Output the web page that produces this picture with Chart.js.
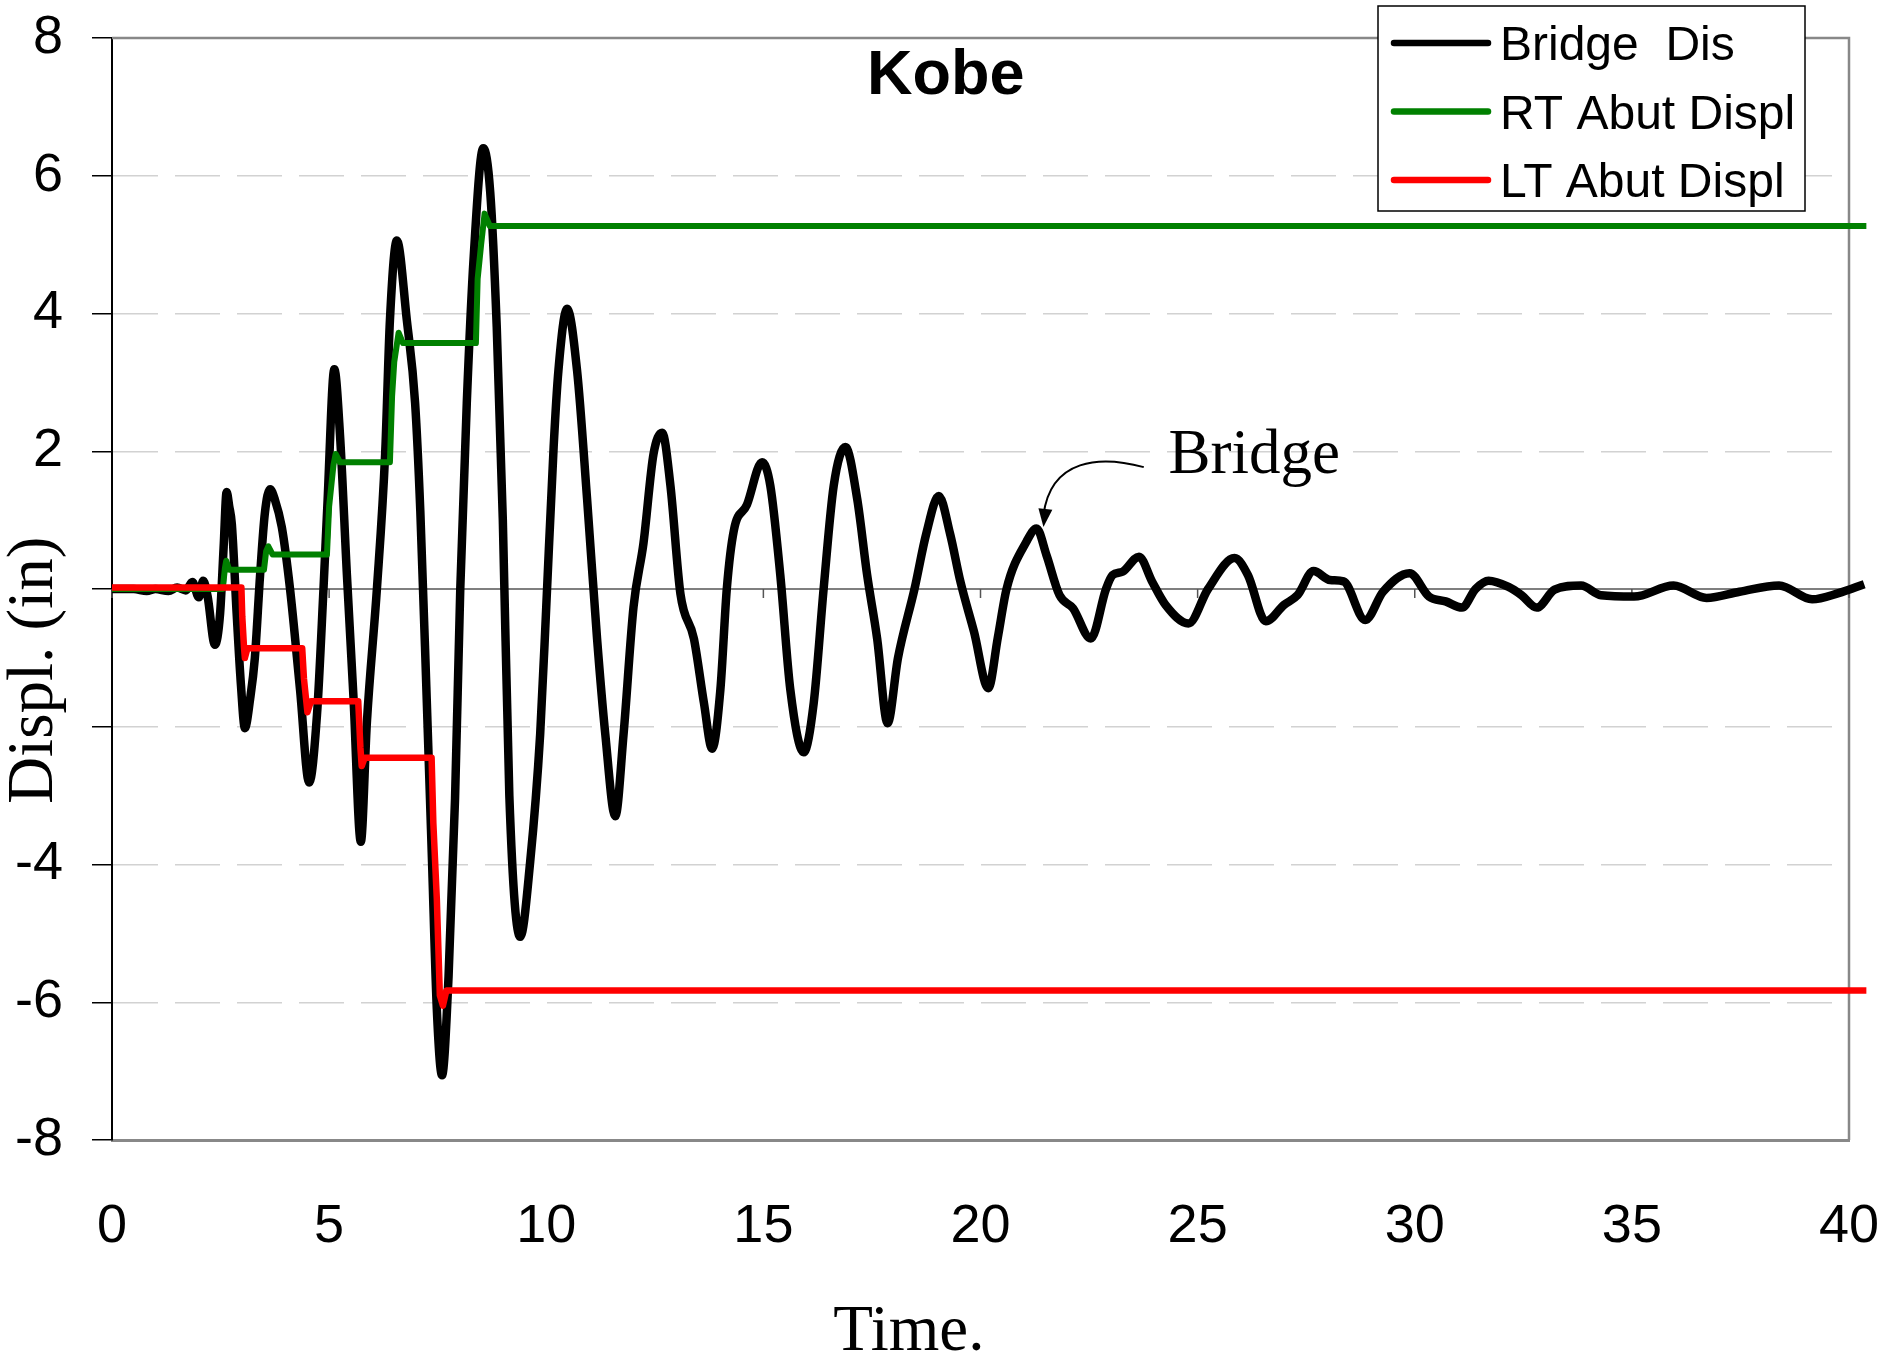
<!DOCTYPE html>
<html>
<head>
<meta charset="utf-8">
<title>Kobe</title>
<script src="https://cdn.jsdelivr.net/npm/chart.js@4.4.1/dist/chart.umd.min.js"></script>
<style>
  html, body { margin: 0; padding: 0; background: #fff; }
  #chartBox { width: 1884px; height: 1355px; }
</style>
</head>
<body>
<div id="chartBox"><canvas id="kobeChart" width="1884" height="1355"></canvas></div>
<script>
// Values: time (s) and displacement (in)
const bridgeTime = [0, 0.5, 0.8, 1.0, 1.3, 1.5, 1.7, 1.85, 2.0, 2.1, 2.2, 2.37, 2.49, 2.57, 2.64, 2.7, 2.76, 2.87, 2.97, 3.06,
  3.18, 3.29, 3.41, 3.52, 3.64, 3.75, 3.91, 4.1, 4.33, 4.54, 4.72, 4.87, 4.96, 5.12, 5.25, 5.41, 5.56, 5.73, 5.87, 6.1,
  6.29, 6.4, 6.56, 6.79, 6.98, 7.1, 7.25, 7.37, 7.48, 7.6, 7.75, 7.9, 8.02, 8.17, 8.33, 8.55, 8.71, 8.86, 9.0, 9.15,
  9.4, 9.63, 9.86, 10.0, 10.17, 10.28, 10.48, 10.71, 10.94, 11.17, 11.36, 11.59, 11.78, 12.01, 12.24, 12.47, 12.67, 12.86, 13.09, 13.4,
  13.63, 13.82, 14.01, 14.16, 14.32, 14.62, 14.97, 15.16, 15.39, 15.62, 15.93, 16.16, 16.39, 16.62, 16.89, 17.16, 17.39, 17.62, 17.86, 18.1,
  18.48, 18.75, 19.04, 19.3, 19.54, 19.85, 20.18, 20.4, 20.6, 21.06, 21.29, 21.52, 21.82, 22.13, 22.54, 22.89, 23.04, 23.27, 23.65, 23.95,
  24.26, 24.79, 25.24, 25.85, 26.16, 26.57, 26.99, 27.3, 27.67, 28.05, 28.36, 28.86, 29.27, 29.88, 30.33, 30.71, 31.09, 31.4, 31.7, 32.16,
  32.46, 32.81, 33.22, 33.83, 34.29, 35.05, 35.96, 36.72, 37.48, 38.39, 39.15, 39.76, 40.35];
const bridgeDisp = [0, 0, -0.03, 0, -0.03, 0.02, -0.02, 0.1, -0.12, 0.12, -0.1, -0.81, -0.35, 0.6, 1.41, 1.2, 0.94, -0.35, -1.4, -2.02,
  -1.6, -1.0, 0.2, 1.1, 1.45, 1.3, 0.9, 0, -1.46, -2.81, -1.83, 0, 1.22, 3.19, 2.24, 0.2, -1.56, -3.67, -1.93, 0,
  1.96, 3.9, 5.06, 3.9, 2.7, 1.13, -1.65, -3.96, -6.1, -7.06, -5.63, -3.04, 0, 2.7, 4.83, 6.4, 5.76, 3.8, 1.0, -3.0,
  -5.05, -3.96, -2.11, -0.26, 2.06, 3.17, 4.07, 3.17, 1.31, -0.72, -2.11, -3.3, -2.11, -0.26, 0.67, 1.96, 2.27, 1.5, -0.07, -0.72,
  -1.65, -2.32, -1.46, 0.02, 0.85, 1.22, 1.84, 1.5, 0.2, -1.46, -2.37, -1.65, 0.02, 1.5, 2.06, 1.31, 0.2, -0.72, -1.95, -1.0,
  0, 0.8, 1.35, 0.8, 0.1, -0.62, -1.44, -0.7, 0, 0.69, 0.88, 0.49, -0.09, -0.28, -0.72, 0, 0.2, 0.25, 0.47, 0.11,
  -0.23, -0.5, 0, 0.45, 0.2, -0.47, -0.23, -0.09, 0.26, 0.13, 0.11, -0.45, -0.04, 0.23, -0.11, -0.18, -0.27, 0, 0.12, 0.03,
  -0.09, -0.27, -0.01, 0.05, -0.09, -0.11, 0.05, -0.13, -0.04, 0.05, -0.15, -0.06, 0.07];

const rtTime = [0, 2.55, 2.6, 2.63, 2.7, 3.5, 3.55, 3.6, 3.7, 4.95, 5.0, 5.1, 5.15, 5.25, 6.4, 6.45, 6.5, 6.6, 6.7, 8.38, 8.42, 8.5, 8.58, 8.7, 40.4];
const rtDisp = [0, 0, 0.3, 0.41, 0.28, 0.28, 0.55, 0.62, 0.5, 0.5, 1.2, 1.8, 1.96, 1.84, 1.84, 2.8, 3.3, 3.72, 3.57, 3.57, 4.5, 5.0, 5.45, 5.27, 5.27];

const ltTime = [0, 2.98, 3.0, 3.04, 3.06, 3.12, 4.38, 4.42, 4.5, 4.58, 5.67, 5.72, 5.75, 5.82, 7.36, 7.4, 7.48, 7.55, 7.62, 7.7, 40.4];
const ltDisp = [0.02, 0.02, -0.4, -0.85, -1.0, -0.86, -0.86, -1.3, -1.79, -1.63, -1.63, -2.3, -2.57, -2.45, -2.45, -3.4, -4.5, -5.9, -6.05, -5.83, -5.83];

const seriesLabels = ['Bridge  Dis', 'RT Abut Displ', 'LT Abut Displ'];
const seriesColors = ['#000000', '#008000', '#ff0000'];
const xTicks = [0, 5, 10, 15, 20, 25, 30, 35, 40];
const xTickLabels = ['0', '5', '10', '15', '20', '25', '30', '35', '40'];
const yTicks = [-8, -6, -4, -2, 0, 2, 4, 6, 8];
// 0 and -2 sit under the axis title in the original, so they carry no text
const yTickLabels = ['-8', '-6', '-4', '', '', '2', '4', '6', '8'];
const chartTitle = 'Kobe';
const xAxisTitle = 'Time.';
const yAxisTitle = 'Displ. (in)';
const noteText = 'Bridge';

const sans = '"Liberation Sans", Arial, sans-serif';
const serif = '"Liberation Serif", "Times New Roman", serif';

const toPoints = (ts, vs) => ts.map((t, i) => ({ x: t, y: vs[i] }));

// Frame, zero line, titles, the "Bridge" note and the boxed legend
const decorPlugin = {
    id: 'decor',
    beforeDatasetsDraw(chart) {
        const { ctx, chartArea: a, scales: { x, y } } = chart;
        ctx.save();
        // top and right frame
        ctx.strokeStyle = '#888';
        ctx.lineWidth = 2.5;
        ctx.beginPath();
        ctx.moveTo(a.left, a.top);
        ctx.lineTo(a.right, a.top);
        ctx.lineTo(a.right, a.bottom);
        ctx.stroke();
        // zero line with its small ticks
        const y0 = y.getPixelForValue(0);
        ctx.strokeStyle = '#555';
        ctx.lineWidth = 1.5;
        ctx.beginPath();
        ctx.moveTo(a.left, y0);
        ctx.lineTo(a.right, y0);
        x.ticks.forEach(t => {
            const px = x.getPixelForValue(t.value);
            ctx.moveTo(px, y0);
            ctx.lineTo(px, y0 + 9);
        });
        ctx.stroke();
        ctx.restore();
    },
    afterDraw(chart) {
        const { ctx, chartArea: a, scales: { x, y } } = chart;
        ctx.save();
        ctx.fillStyle = '#000';

        // title inside the plot
        ctx.font = 'bold 63px ' + sans;
        ctx.textAlign = 'center';
        ctx.textBaseline = 'alphabetic';
        ctx.fillText(chartTitle, x.getPixelForValue(19.2), 94);

        // axis titles
        ctx.font = '65px ' + serif;
        ctx.fillText(xAxisTitle, x.getPixelForValue(18.35), 1350);
        ctx.save();
        ctx.translate(52, y.getPixelForValue(-1.18));
        ctx.rotate(-Math.PI / 2);
        ctx.fillText(yAxisTitle, 0, 0);
        ctx.restore();

        // note with curved arrow
        ctx.font = '63px ' + serif;
        ctx.textAlign = 'left';
        ctx.fillText(noteText, x.getPixelForValue(24.33), y.getPixelForValue(1.68));
        const sx = x.getPixelForValue(23.76), sy = y.getPixelForValue(1.77);
        const c1x = x.getPixelForValue(22.76), c1y = y.getPixelForValue(1.94);
        const c2x = x.getPixelForValue(21.62), c2y = y.getPixelForValue(1.9);
        const tx = x.getPixelForValue(21.45), ty = y.getPixelForValue(0.9);
        ctx.strokeStyle = '#000';
        ctx.lineWidth = 2;
        ctx.beginPath();
        ctx.moveTo(sx, sy);
        ctx.bezierCurveTo(c1x, c1y, c2x, c2y, tx, ty - 12);
        ctx.stroke();
        const ang = Math.atan2(ty - c2y, tx - c2x);
        ctx.beginPath();
        ctx.moveTo(tx, ty);
        ctx.lineTo(tx - 18 * Math.cos(ang) + 7 * Math.sin(ang), ty - 18 * Math.sin(ang) - 7 * Math.cos(ang));
        ctx.lineTo(tx - 18 * Math.cos(ang) - 7 * Math.sin(ang), ty - 18 * Math.sin(ang) + 7 * Math.cos(ang));
        ctx.closePath();
        ctx.fill();

        // legend box
        const bx = a.right - 471, by = 6, bw = 427, bh = 205;
        ctx.fillStyle = '#fff';
        ctx.fillRect(bx, by, bw, bh);
        ctx.strokeStyle = '#000';
        ctx.lineWidth = 1.5;
        ctx.strokeRect(bx, by, bw, bh);
        ctx.font = '48px ' + sans;
        ctx.textAlign = 'left';
        chart.data.datasets.forEach((ds, i) => {
            const rowY = by + 37 + i * 68.5;
            ctx.strokeStyle = ds.borderColor;
            ctx.lineWidth = 6.5;
            ctx.lineCap = 'round';
            ctx.beginPath();
            ctx.moveTo(bx + 16, rowY);
            ctx.lineTo(bx + 110, rowY);
            ctx.stroke();
            ctx.fillStyle = '#000';
            ctx.fillText(ds.label, bx + 122, rowY + 17);
        });
        ctx.restore();
    }
};

const initKobeChart = () => {
    const canvas = document.getElementById('kobeChart');
    const ctx = canvas.getContext('2d');

    new Chart(ctx, {
        type: 'line',
        data: {
            datasets: [
                {
                    label: seriesLabels[0],
                    data: toPoints(bridgeTime, bridgeDisp),
                    borderColor: seriesColors[0],
                    borderWidth: 8.5,
                    cubicInterpolationMode: 'monotone',
                    order: 3
                },
                {
                    label: seriesLabels[1],
                    data: toPoints(rtTime, rtDisp),
                    borderColor: seriesColors[1],
                    borderWidth: 6,
                    tension: 0,
                    order: 2
                },
                {
                    label: seriesLabels[2],
                    data: toPoints(ltTime, ltDisp),
                    borderColor: seriesColors[2],
                    borderWidth: 6.5,
                    tension: 0,
                    order: 1
                }
            ].map(ds => Object.assign(ds, {
                pointRadius: 0,
                fill: false,
                borderJoinStyle: 'round',
                clip: { left: 4, top: 4, right: 20, bottom: 4 }
            }))
        },
        options: {
            responsive: false,
            animation: false,
            devicePixelRatio: 1,
            layout: { padding: { top: 38, right: 35, left: 0, bottom: 0 } },
            plugins: {
                legend: { display: false },
                tooltip: { enabled: false }
            },
            scales: {
                x: {
                    type: 'linear',
                    min: 0,
                    max: 40,
                    afterBuildTicks: s => { s.ticks = xTicks.map(v => ({ value: v })); },
                    afterFit: s => {
                        s.height = 215;
                        s.paddingLeft = 0;
                        s.paddingRight = 0;
                    },
                    grid: { display: false, drawTicks: false },
                    border: { display: true, color: '#888', width: 3 },
                    ticks: {
                        padding: 55,
                        color: '#000',
                        maxRotation: 0,
                        font: { family: sans, size: 54 },
                        callback: (v, i) => xTickLabels[i]
                    }
                },
                y: {
                    type: 'linear',
                    min: -8,
                    max: 8,
                    afterBuildTicks: s => { s.ticks = yTicks.map(v => ({ value: v })); },
                    afterFit: s => {
                        s.width = 112;
                        s.paddingTop = 0;
                        s.paddingBottom = 0;
                    },
                    grid: {
                        color: c => (c.tick && (c.tick.value === 0 || Math.abs(c.tick.value) === 8)) ? 'rgba(0,0,0,0)' : '#d2d2d2',
                        lineWidth: 1.5,
                        tickColor: '#000',
                        tickWidth: 1.5,
                        tickLength: 20
                    },
                    border: { display: true, color: '#000', width: 2, dash: [45, 17] },
                    ticks: {
                        padding: 29,
                        color: '#000',
                        font: { family: sans, size: 54 },
                        callback: (v, i) => yTickLabels[i]
                    }
                }
            }
        },
        plugins: [decorPlugin]
    });
};

initKobeChart();
</script>
</body>
</html>
